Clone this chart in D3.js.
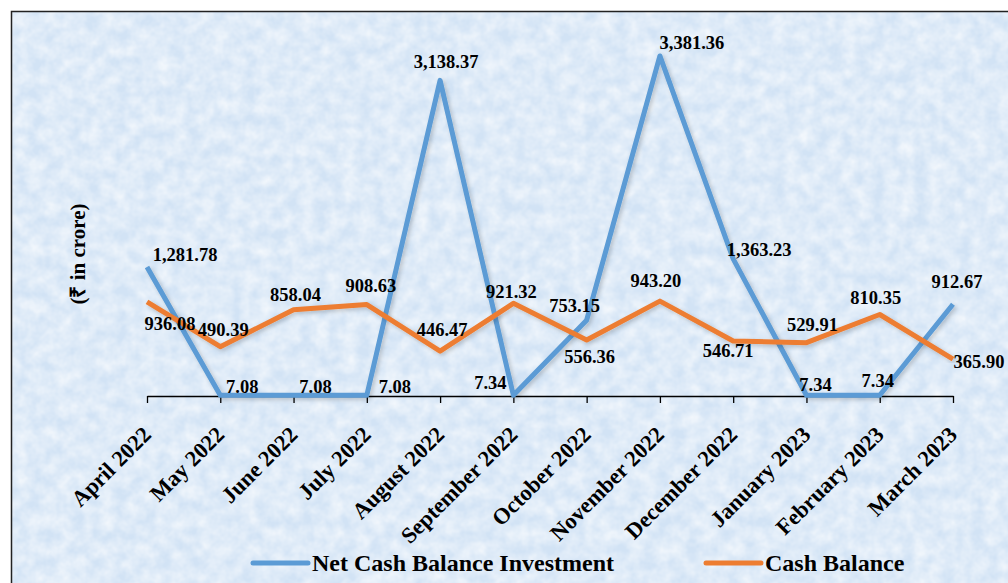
<!DOCTYPE html>
<html>
<head>
<meta charset="utf-8">
<script src="https://cdn.jsdelivr.net/npm/d3@7"></script>
<style>
  html, body { margin: 0; padding: 0; background: #fff; overflow: hidden; }
  text { font-family: "Liberation Serif", "Times New Roman", serif; font-weight: bold; fill: #000; }
</style>
</head>
<body>
<script>
const width = 1008;
const height = 583;

const months = ['April 2022', 'May 2022', 'June 2022', 'July 2022', 'August 2022', 'September 2022',
    'October 2022', 'November 2022', 'December 2022', 'January 2023', 'February 2023', 'March 2023'];
const netCash = [1281.78, 7.08, 7.08, 7.08, 3138.37, 7.34, 753.15, 3381.36, 1363.23, 7.34, 7.34, 912.67];
const cashBal = [936.08, 490.39, 858.04, 908.63, 446.47, 921.32, 556.36, 943.20, 546.71, 529.91, 810.35, 365.90];
const seriesNames = ['Net Cash Balance Investment', 'Cash Balance'];

// label offsets from the point (centre x, baseline y)
const netLabelPos = [[38, -6], [22, -2], [22, -2], [28, -2], [6, -12], [-23, -6], [-12, -8], [32, -7], [26, -3], [9, -4], [-2, -8], [4, -16]];
const cashLabelPos = [[23, 28], [3, -11], [2, -9], [4, -13], [2, -15], [-2, -5], [3, 23], [-4, -14], [-5, 16], [6, -12], [-4, -11], [26, 9]];

const blue = '#5b9bd5';
const orange = '#ed7d31';

const svg = d3.select('body')
    .append('svg')
    .attr('width', width)
    .attr('height', height);

const defs = svg.append('defs');

// mottled paper texture
const tex = defs.append('filter').attr('id', 'tex')
    .attr('x', 0).attr('y', 0).attr('width', '100%').attr('height', '100%');
tex.append('feTurbulence')
    .attr('type', 'fractalNoise')
    .attr('baseFrequency', 0.07)
    .attr('numOctaves', 3)
    .attr('seed', 11);
tex.append('feColorMatrix')
    .attr('type', 'matrix')
    .attr('values', '0 0 0 0 1  0 0 0 0 1  0 0 0 0 1  1.0 0 0 0 -0.22');

const shadow = defs.append('filter').attr('id', 'shadow')
    .attr('x', '-5%').attr('y', '-5%').attr('width', '110%').attr('height', '110%');
shadow.append('feGaussianBlur').attr('in', 'SourceAlpha').attr('stdDeviation', 2);
shadow.append('feOffset').attr('dx', 2).attr('dy', 2).attr('result', 'b');
shadow.append('feComponentTransfer').append('feFuncA').attr('type', 'linear').attr('slope', 0.2);
const merge = shadow.append('feMerge');
merge.append('feMergeNode');
merge.append('feMergeNode').attr('in', 'SourceGraphic');

// background + border
svg.append('rect')
    .attr('x', 11).attr('y', 11)
    .attr('width', width).attr('height', height)
    .attr('fill', '#d2e3f5');
svg.append('rect')
    .attr('x', 11).attr('y', 11)
    .attr('width', width).attr('height', height)
    .attr('filter', 'url(#tex)');
svg.append('rect')
    .attr('x', 11.5).attr('y', 11.5)
    .attr('width', width).attr('height', height)
    .attr('fill', 'none')
    .attr('stroke', '#222')
    .attr('stroke-width', 1.5);

const x = d3.scalePoint().domain(months).range([147, 953]);
const y = d3.scaleLinear().domain([0, 3500]).range([396, 44]);
const fmt = d3.format(',.2f');

// x axis
const xAxis = svg.append('g')
    .attr('transform', 'translate(0,396)')
    .call(d3.axisBottom(x).tickSize(7).tickSizeOuter(0));
xAxis.select('.domain').attr('stroke', '#000').attr('stroke-width', 1.3);
xAxis.selectAll('.tick line').attr('stroke', '#000').attr('stroke-width', 1.3);
xAxis.selectAll('.tick text')
    .attr('x', 0).attr('y', 0).attr('dy', 0)
    .attr('transform', 'translate(5,40) rotate(-45)')
    .style('text-anchor', 'end')
    .style('font-family', '"Liberation Serif", "Times New Roman", serif')
    .style('font-weight', 'bold')
    .style('font-size', '22.5px')
    .attr('fill', '#000');

// y title
svg.append('text')
    .attr('transform', 'translate(85,254) rotate(-90)')
    .attr('text-anchor', 'middle')
    .style('font-size', '21px')
    .text('(₹ in crore)');

const line = d3.line()
    .x((d, i) => x(months[i]))
    .y(d => y(d));

const series = [
    { name: seriesNames[0], values: netCash, color: blue, pos: netLabelPos },
    { name: seriesNames[1], values: cashBal, color: orange, pos: cashLabelPos }
];

svg.append('g').selectAll('path')
    .data(series)
    .enter()
    .append('path')
    .attr('d', d => line(d.values))
    .attr('fill', 'none')
    .attr('stroke', d => d.color)
    .attr('stroke-width', 5)
    .attr('stroke-linejoin', 'round')
    .attr('filter', 'url(#shadow)');

// data labels
series.forEach(s => {
    svg.append('g').selectAll('text')
        .data(s.values)
        .enter()
        .append('text')
        .attr('x', (d, i) => x(months[i]) + s.pos[i][0])
        .attr('y', (d, i) => y(d) + s.pos[i][1])
        .attr('text-anchor', 'middle')
        .style('font-size', '18.5px')
        .text(d => fmt(d));
});

// legend
const legend = svg.append('g')
    .selectAll('g')
    .data(series)
    .enter()
    .append('g')
    .attr('transform', (d, i) => `translate(${i === 0 ? 253 : 706},563)`);
legend.append('line')
    .attr('x1', 0).attr('x2', 55)
    .attr('stroke', d => d.color)
    .attr('stroke-width', 5)
    .attr('stroke-linecap', 'round');
legend.append('text')
    .attr('x', 59).attr('y', 8)
    .style('font-size', '24px')
    .text(d => d.name);
</script>
</body>
</html>
